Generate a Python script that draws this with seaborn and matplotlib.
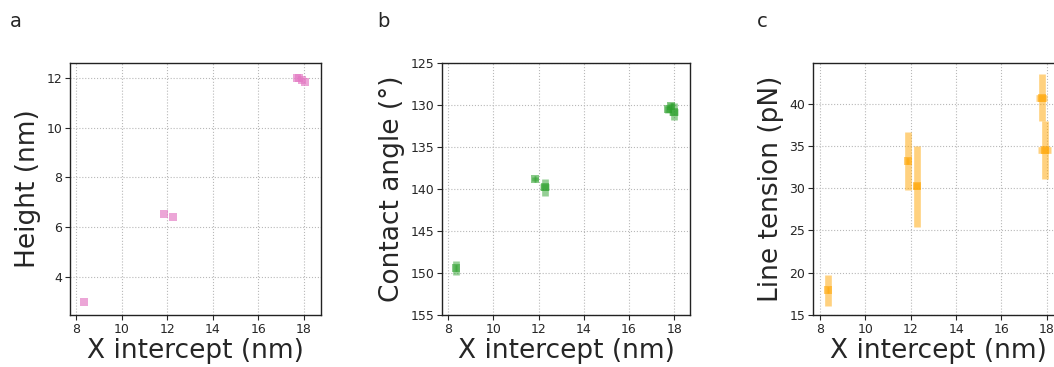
import matplotlib
matplotlib.use("Agg")
import matplotlib.pyplot as plt
import seaborn as sns
import pandas as pd
import numpy as np

# ---- data ----
# panel a: height
a_x = [8.35, 11.86, 12.27, 17.70, 17.80, 17.90, 18.05]
a_y = [3.00, 6.52, 6.43, 11.97, 11.99, 11.90, 11.82]
a_xerr = [0.03, 0.03, 0.03, 0.03, 0.03, 0.03, 0.03]
a_yerr = [0.03, 0.03, 0.03, 0.03, 0.03, 0.03, 0.03]

# panel b: contact angle
b_x = [8.35, 11.85, 12.26, 17.73, 17.88, 17.98]
b_y = [149.4, 138.8, 139.8, 130.5, 130.1, 130.8]
b_xerr = [0.05, 0.05, 0.2, 0.10, 0.08, 0.2]
b_yerr = [0.8, 0.2, 1.0, 0.4, 0.3, 1.0]

# panel c: line tension
c_x = [8.35, 11.86, 12.27, 17.77, 17.90]
c_y = [17.9, 33.2, 30.2, 40.7, 34.5]
c_xerr = [0.05, 0.05, 0.15, 0.24, 0.30]
c_yerr = [1.8, 3.4, 4.8, 2.8, 3.4]

xlabel = "X intercept (nm)"
ylabels = ["Height (nm)", "Contact angle (\u00b0)", "Line tension (pN)"]
letters = ["a", "b", "c"]
colors = ["#e377c2", "#2ca02c", "#ffa500"]
xticks = [8, 10, 12, 14, 16, 18]

sns.set_style("ticks")
plt.rcParams['font.family'] = ['DejaVu Sans']

fig = plt.figure(figsize=(10.54, 3.67), dpi=100)
W, H = 1054, 367
bottom = 1 - 315 / H
height = (315 - 63) / H
axes = [
    fig.add_axes([70 / W, bottom, 251 / W, height]),
    fig.add_axes([442 / W, bottom, 248 / W, height]),
    fig.add_axes([813 / W, bottom, 251 / W, height]),
]

datasets = [
    (a_x, a_y, a_xerr, a_yerr),
    (b_x, b_y, b_xerr, b_yerr),
    (c_x, c_y, c_xerr, c_yerr),
]

lw = 4.8
for i, (ax, (x, y, xe, ye), col, yl) in enumerate(zip(axes, datasets, colors, ylabels)):
    df = pd.DataFrame({"x": x, "y": y})
    if i > 0:
        ax.errorbar(x, y, xerr=xe, yerr=ye, fmt='none', ecolor=col,
                    elinewidth=lw, alpha=0.5, capsize=0, zorder=3)
    sns.scatterplot(data=df, x="x", y="y", ax=ax, marker='s',
                    s=38 if i == 0 else 34,
                    color=col, alpha=0.65 if i == 0 else 0.55,
                    linewidth=0, zorder=4)
    ax.grid(True, linestyle=':', color='#b8b8b8', linewidth=0.8)
    ax.set_axisbelow(True)
    ax.set_xticks(xticks)
    ax.set_xlabel(xlabel, fontsize=19, labelpad=2)
    ax.set_ylabel(yl, fontsize=19, labelpad=4)
    ax.tick_params(labelsize=9, length=3.5, width=0.8, pad=2)
    for s in ax.spines.values():
        s.set_linewidth(1.0)
        s.set_color('#222222')

axes[0].set_xlim(7.74, 18.75)
axes[0].set_ylim(2.48, 12.59)
axes[0].set_yticks([4, 6, 8, 10, 12])

axes[1].set_xlim(7.72, 18.7)
axes[1].set_ylim(155, 125)
axes[1].set_yticks([125, 130, 135, 140, 145, 150, 155])

axes[2].set_xlim(7.69, 18.76)
axes[2].set_ylim(15, 44.8)
axes[2].set_yticks([15, 20, 25, 30, 35, 40])

for lx, lt in zip([10, 377, 757], letters):
    fig.text(lx / W, 1 - 27 / H, lt, fontsize=14)

fig.savefig("out.png", dpi=100)
